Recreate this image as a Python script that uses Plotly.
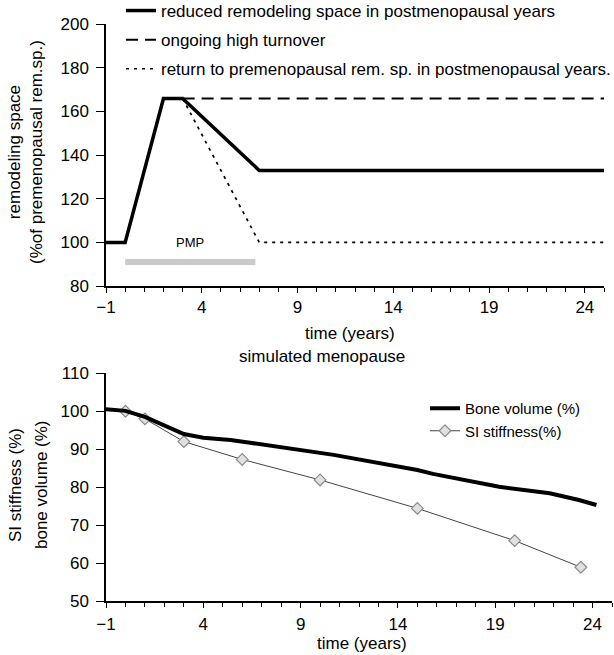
import plotly.graph_objects as go

# ---------------- data ----------------
# top panel: remodeling space (% of premenopausal remodeling space)
time_reduced = [-1, 0, 2, 3, 7, 25]
rs_reduced = [100, 100, 166, 166, 133, 133]
time_high = [3, 25]
rs_high = [166, 166]
time_return = [3, 7, 25]
rs_return = [166, 100, 100]
pmp_time = [0, 6.8]
pmp_level = [91, 91]

# bottom panel: simulated menopause
bone_time = [-1, 0, 1, 2, 3, 4, 5.4, 6.4, 9, 10.7, 15, 15.8, 19.2, 21.8, 23.3, 24.2]
bone_volume = [100.5, 100.1, 98.5, 96.2, 94.0, 93.0, 92.4, 91.7, 89.8, 88.5, 84.5, 83.5, 80.1, 78.4, 76.6, 75.3]
si_time = [0, 1, 3, 6, 10, 15, 20, 23.4]
si_stiffness = [100, 98, 92, 87.3, 81.9, 74.4, 65.9, 58.9]

labels_top = ["reduced remodeling space in postmenopausal years",
              "ongoing high turnover",
              "return to premenopausal rem. sp. in postmenopausal years."]
labels_bottom = ["Bone volume (%)", "SI stiffness(%)"]

W, H = 614, 655
FONT = "Arial, Liberation Sans, sans-serif"


def px_x(p):
    return p / W


def px_y(p):
    return 1 - p / H


fig = go.Figure()

# ---- top panel traces ----
fig.add_trace(go.Scatter(x=pmp_time, y=pmp_level, mode="lines",
                         line=dict(color="#cacaca", width=6), showlegend=False,
                         xaxis="x", yaxis="y", hoverinfo="skip"))
fig.add_trace(go.Scatter(x=time_high, y=rs_high, mode="lines", name=labels_top[1],
                         line=dict(color="black", width=2, dash="12px,7px"),
                         legend="legend", legendgroup="b", legendrank=2, xaxis="x", yaxis="y"))
fig.add_trace(go.Scatter(x=time_return, y=rs_return, mode="lines", name=labels_top[2],
                         line=dict(color="black", width=1.7, dash="3px,5px"),
                         legend="legend", legendgroup="c", legendrank=3, xaxis="x", yaxis="y"))
fig.add_trace(go.Scatter(x=time_reduced, y=rs_reduced, mode="lines", name=labels_top[0],
                         line=dict(color="black", width=3.5),
                         legend="legend", legendgroup="a", legendrank=1, xaxis="x", yaxis="y"))

# ---- bottom panel traces ----
fig.add_trace(go.Scatter(x=si_time, y=si_stiffness, mode="lines+markers", name=labels_bottom[1],
                         line=dict(color="#444444", width=1),
                         marker=dict(symbol="diamond", size=9, color="#e0e0e0",
                                     line=dict(color="#8a8a8a", width=1.2)),
                         legend="legend2", legendrank=2, xaxis="x2", yaxis="y2"))
fig.add_trace(go.Scatter(x=bone_time, y=bone_volume, mode="lines", name=labels_bottom[0],
                         line=dict(color="black", width=4),
                         legend="legend2", legendrank=1, xaxis="x2", yaxis="y2"))

axis_common = dict(showline=True, linecolor="black", linewidth=1.5, showgrid=False,
                   zeroline=False, ticks="outside", tickcolor="black", tickwidth=1.2,
                   automargin=False,
                   tickfont=dict(family=FONT, size=17, color="black"))

fig.update_layout(
    width=W, height=H,
    margin=dict(l=0, r=0, t=0, b=0, autoexpand=False),
    paper_bgcolor="white", plot_bgcolor="white",
    font=dict(family=FONT, size=17, color="black"),
    xaxis=dict(domain=[px_x(106), px_x(604)], range=[-1, 25], tick0=-1, dtick=5,
               ticklen=5, anchor="y",
               minor=dict(dtick=1, tick0=-1, ticks="outside", ticklen=4, tickcolor="black"),
               **axis_common),
    yaxis=dict(domain=[px_y(286), px_y(24.3)], range=[80, 200], tick0=80, dtick=20,
               ticklen=8, ticklabelstandoff=4, anchor="x", **axis_common),
    xaxis2=dict(domain=[px_x(106), px_x(612)], range=[-1, 25], tick0=-1, dtick=5,
                ticklen=5, ticklabelstandoff=2, anchor="y2",
                minor=dict(dtick=1, tick0=-1, ticks="outside", ticklen=4, tickcolor="black"),
                **axis_common),
    yaxis2=dict(domain=[px_y(601), px_y(373.3)], range=[50, 110], tick0=50, dtick=10,
                ticklen=8, ticklabelstandoff=4, anchor="x2", **axis_common),
    legend=dict(x=px_x(121), y=1 + 7 / H, xanchor="left", yanchor="top",
                bgcolor="rgba(0,0,0,0)", borderwidth=0, tracegroupgap=4,
                font=dict(family=FONT, size=17, color="black")),
    legend2=dict(x=px_x(425), y=px_y(392), xanchor="left", yanchor="top",
                 bgcolor="rgba(0,0,0,0)", borderwidth=0,
                 font=dict(family=FONT, size=15, color="black")),
    showlegend=True,
)

ann_font = dict(family=FONT, size=17, color="black")
fig.add_annotation(text="remodeling space<br>(%of premenopausal rem.sp.)", textangle=-90,
                   x=px_x(26), y=px_y(152), xref="paper", yref="paper",
                   xanchor="center", yanchor="middle", showarrow=False, font=ann_font)
fig.add_annotation(text="time (years)", x=px_x(350), y=px_y(333), xref="paper", yref="paper",
                   xanchor="center", yanchor="middle", showarrow=False, font=ann_font)
fig.add_annotation(text="simulated menopause", x=px_x(322), y=px_y(356), xref="paper", yref="paper",
                   xanchor="center", yanchor="middle", showarrow=False, font=ann_font)
fig.add_annotation(text="PMP", x=3.4, y=100, xref="x", yref="y",
                   xanchor="center", yanchor="middle", showarrow=False,
                   font=dict(family=FONT, size=13, color="black"))
fig.add_annotation(text="SI stiffness (%)", textangle=-90,
                   x=px_x(15), y=px_y(485), xref="paper", yref="paper",
                   xanchor="center", yanchor="middle", showarrow=False, font=ann_font)
fig.add_annotation(text="bone volume (%)", textangle=-90,
                   x=px_x(41), y=px_y(485), xref="paper", yref="paper",
                   xanchor="center", yanchor="middle", showarrow=False, font=ann_font)
fig.add_annotation(text="time (years)", x=px_x(362), y=px_y(643), xref="paper", yref="paper",
                   xanchor="center", yanchor="middle", showarrow=False, font=ann_font)

fig.write_html(
    "out.html",
    post_script="document.body.style.margin='0';document.body.style.overflow='hidden';",
)
